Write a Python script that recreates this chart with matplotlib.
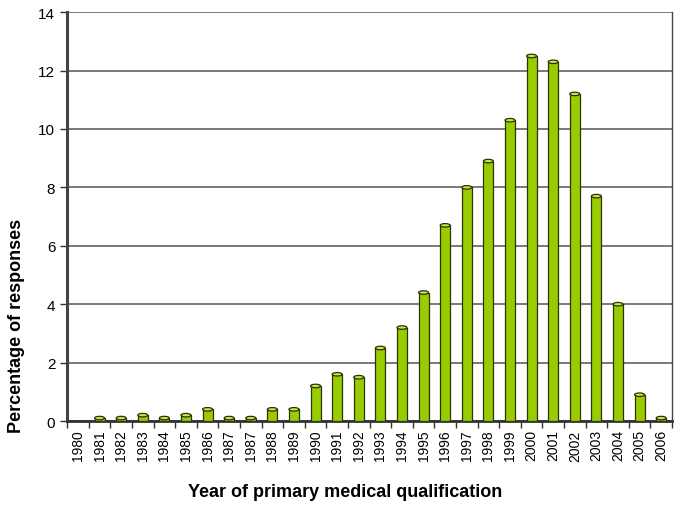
import matplotlib.pyplot as plt
from matplotlib.patches import Ellipse

years = ['1980', '1981', '1982', '1983', '1984', '1985', '1986', '1987', '1987',
         '1988', '1989', '1990', '1991', '1992', '1993', '1994', '1995', '1996',
         '1997', '1998', '1999', '2000', '2001', '2002', '2003', '2004', '2005', '2006']
percent = [0.0, 0.1, 0.1, 0.2, 0.1, 0.2, 0.4, 0.1, 0.1,
           0.4, 0.4, 1.2, 1.6, 1.5, 2.5, 3.2, 4.4, 6.7,
           8.0, 8.9, 10.3, 12.5, 12.3, 11.2, 7.7, 4.0, 0.9, 0.1]

plt.rcParams['font.family'] = ['Liberation Sans', 'DejaVu Sans']

fig = plt.figure(figsize=(6.85, 5.06), dpi=100)
ax = fig.add_axes([0.098, 0.166, 0.883, 0.808])

x = list(range(len(years)))
w = 0.46
ax.bar(x, percent, width=w, color='#99cc00', edgecolor='#2b3300', linewidth=0.9, zorder=3)
for xi, v in zip(x, percent):
    if v > 0:
        ax.add_patch(Ellipse((xi, v), w, 0.12, facecolor='#c6e35a', edgecolor='#2b3300',
                             linewidth=0.9, zorder=4))

ax.set_xlim(-0.5, len(years) - 0.5)
ax.set_ylim(0, 14)
ax.set_yticks(range(0, 15, 2))
ax.yaxis.grid(True, color='#555555', linewidth=1.1, zorder=0)
ax.set_axisbelow(True)

ax.set_xticks(x)
ax.set_xticklabels(years, rotation=90, fontsize=10, family=['Liberation Sans Narrow', 'Liberation Sans'])
ax.set_xticks([i + 0.5 for i in range(-1, len(years))], minor=True)
ax.tick_params(axis='x', which='major', length=0, pad=6)
ax.tick_params(axis='x', which='minor', length=5, width=1, color='#333333', direction='out')
ax.tick_params(axis='y', labelsize=11, length=5, width=1, color='#333333')

ax.spines['top'].set_visible(False)
ax.spines['left'].set_linewidth(2.2)
ax.spines['left'].set_color('#444444')
ax.spines['bottom'].set_linewidth(2)
ax.spines['bottom'].set_color('#333333')
ax.spines['right'].set_linewidth(1)
ax.spines['right'].set_color('#444444')

fig.text(17 / 685, 1 - 326 / 506, 'Percentage of responses', fontsize=13, fontweight='bold',
         rotation=90, ha='center', va='center')
fig.text(345 / 685, 1 - 493 / 506, 'Year of primary medical qualification', fontsize=13,
         fontweight='bold', ha='center', va='center')

fig.savefig('out.png', dpi=100)
